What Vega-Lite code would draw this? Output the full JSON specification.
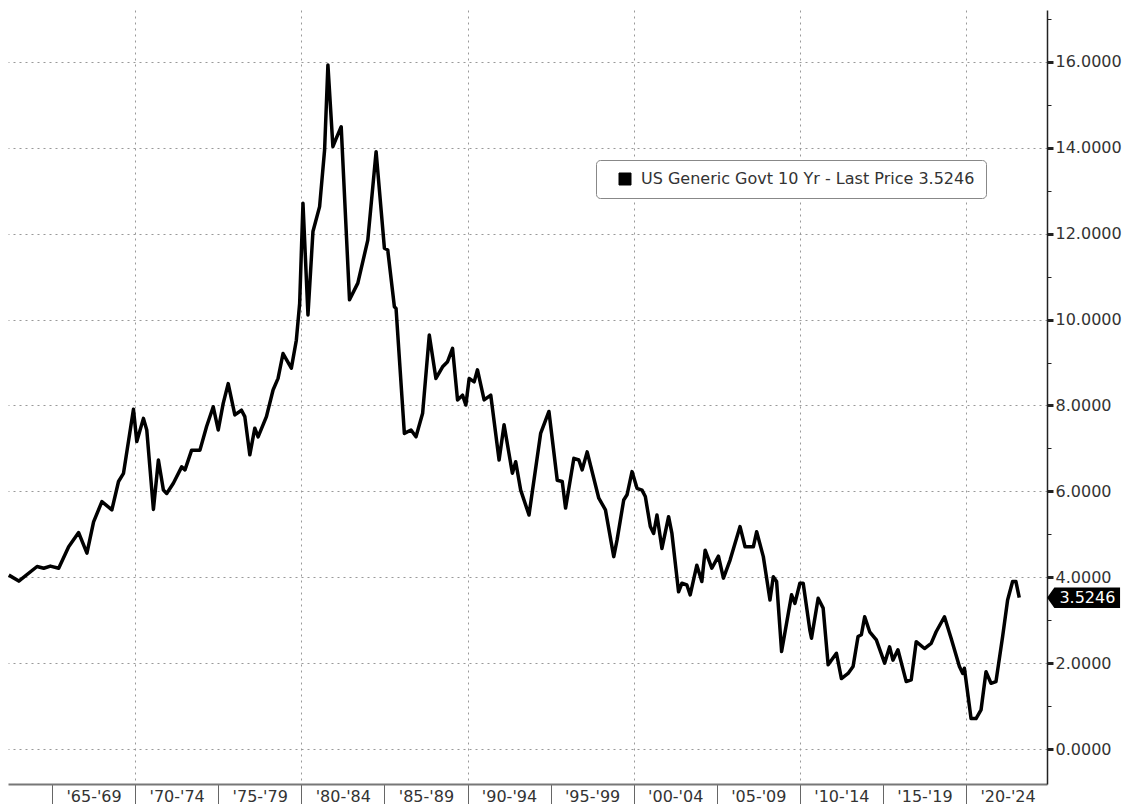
{
  "$schema": "https://vega.github.io/schema/vega-lite/v6.json",
  "autosize": {"type": "none"},
  "width": 1039,
  "height": 774,
  "padding": {"left": 8, "top": 10, "right": 76, "bottom": 20},
  "background": "#ffffff",
  "config": {"view": {"stroke": null}, "font": "DejaVu Sans"},
  "datasets": {
    "yield": [
      {"t": 1962.4, "v": 4.05}, {"t": 1963.0, "v": 3.91}, {"t": 1964.1, "v": 4.25}, {"t": 1964.5, "v": 4.21},
      {"t": 1964.9, "v": 4.26}, {"t": 1965.4, "v": 4.21}, {"t": 1966.0, "v": 4.71}, {"t": 1966.6, "v": 5.04},
      {"t": 1967.1, "v": 4.56}, {"t": 1967.5, "v": 5.29}, {"t": 1968.0, "v": 5.76}, {"t": 1968.6, "v": 5.57},
      {"t": 1969.0, "v": 6.23}, {"t": 1969.3, "v": 6.42}, {"t": 1969.9, "v": 7.91}, {"t": 1970.1, "v": 7.16},
      {"t": 1970.5, "v": 7.70}, {"t": 1970.7, "v": 7.43}, {"t": 1971.1, "v": 5.58}, {"t": 1971.4, "v": 6.73},
      {"t": 1971.7, "v": 6.03}, {"t": 1971.9, "v": 5.95}, {"t": 1972.3, "v": 6.19}, {"t": 1972.8, "v": 6.57},
      {"t": 1973.0, "v": 6.50}, {"t": 1973.4, "v": 6.96}, {"t": 1973.9, "v": 6.96}, {"t": 1974.3, "v": 7.51},
      {"t": 1974.7, "v": 7.97}, {"t": 1975.0, "v": 7.43}, {"t": 1975.3, "v": 8.05}, {"t": 1975.6, "v": 8.51},
      {"t": 1976.0, "v": 7.78}, {"t": 1976.4, "v": 7.89}, {"t": 1976.6, "v": 7.74}, {"t": 1976.9, "v": 6.85},
      {"t": 1977.2, "v": 7.47}, {"t": 1977.4, "v": 7.27}, {"t": 1977.9, "v": 7.74}, {"t": 1978.3, "v": 8.36},
      {"t": 1978.6, "v": 8.63}, {"t": 1978.9, "v": 9.21}, {"t": 1979.4, "v": 8.87}, {"t": 1979.7, "v": 9.52},
      {"t": 1979.9, "v": 10.38}, {"t": 1980.1, "v": 12.71}, {"t": 1980.4, "v": 10.11}, {"t": 1980.7, "v": 12.05},
      {"t": 1981.1, "v": 12.63}, {"t": 1981.4, "v": 13.95}, {"t": 1981.6, "v": 15.93}, {"t": 1981.9, "v": 14.03},
      {"t": 1982.1, "v": 14.22}, {"t": 1982.4, "v": 14.49}, {"t": 1982.9, "v": 10.46}, {"t": 1983.4, "v": 10.85},
      {"t": 1984.0, "v": 11.85}, {"t": 1984.5, "v": 13.91}, {"t": 1985.0, "v": 11.66}, {"t": 1985.2, "v": 11.62},
      {"t": 1985.6, "v": 10.30}, {"t": 1985.7, "v": 10.26}, {"t": 1986.2, "v": 7.35}, {"t": 1986.6, "v": 7.43},
      {"t": 1986.9, "v": 7.27}, {"t": 1987.3, "v": 7.82}, {"t": 1987.7, "v": 9.64}, {"t": 1988.1, "v": 8.63},
      {"t": 1988.5, "v": 8.90}, {"t": 1988.8, "v": 9.02}, {"t": 1989.1, "v": 9.33}, {"t": 1989.4, "v": 8.13},
      {"t": 1989.7, "v": 8.24}, {"t": 1989.9, "v": 8.01}, {"t": 1990.1, "v": 8.63}, {"t": 1990.4, "v": 8.55},
      {"t": 1990.6, "v": 8.83}, {"t": 1991.0, "v": 8.13}, {"t": 1991.4, "v": 8.24}, {"t": 1991.9, "v": 6.73},
      {"t": 1992.2, "v": 7.55}, {"t": 1992.7, "v": 6.42}, {"t": 1992.9, "v": 6.69}, {"t": 1993.2, "v": 6.03},
      {"t": 1993.7, "v": 5.45}, {"t": 1994.4, "v": 7.35}, {"t": 1994.9, "v": 7.86}, {"t": 1995.4, "v": 6.26},
      {"t": 1995.7, "v": 6.23}, {"t": 1995.9, "v": 5.61}, {"t": 1996.4, "v": 6.77}, {"t": 1996.7, "v": 6.73},
      {"t": 1996.9, "v": 6.50}, {"t": 1997.2, "v": 6.92}, {"t": 1997.9, "v": 5.84}, {"t": 1998.3, "v": 5.57},
      {"t": 1998.8, "v": 4.48}, {"t": 1999.0, "v": 4.87}, {"t": 1999.4, "v": 5.80}, {"t": 1999.6, "v": 5.92},
      {"t": 1999.9, "v": 6.46}, {"t": 2000.2, "v": 6.07}, {"t": 2000.5, "v": 6.03}, {"t": 2000.7, "v": 5.88},
      {"t": 2001.0, "v": 5.18}, {"t": 2001.2, "v": 5.02}, {"t": 2001.4, "v": 5.45}, {"t": 2001.7, "v": 4.67},
      {"t": 2002.1, "v": 5.41}, {"t": 2002.3, "v": 5.02}, {"t": 2002.7, "v": 3.66}, {"t": 2002.9, "v": 3.86},
      {"t": 2003.2, "v": 3.82}, {"t": 2003.4, "v": 3.59}, {"t": 2003.8, "v": 4.28}, {"t": 2004.1, "v": 3.90},
      {"t": 2004.3, "v": 4.63}, {"t": 2004.7, "v": 4.21}, {"t": 2005.1, "v": 4.49}, {"t": 2005.4, "v": 3.98},
      {"t": 2005.8, "v": 4.40}, {"t": 2006.4, "v": 5.18}, {"t": 2006.7, "v": 4.71}, {"t": 2007.2, "v": 4.71},
      {"t": 2007.4, "v": 5.06}, {"t": 2007.8, "v": 4.48}, {"t": 2008.2, "v": 3.47}, {"t": 2008.4, "v": 4.01},
      {"t": 2008.6, "v": 3.90}, {"t": 2008.9, "v": 2.27}, {"t": 2009.5, "v": 3.59}, {"t": 2009.7, "v": 3.39},
      {"t": 2010.0, "v": 3.86}, {"t": 2010.2, "v": 3.86}, {"t": 2010.6, "v": 2.77}, {"t": 2010.7, "v": 2.58},
      {"t": 2011.1, "v": 3.51}, {"t": 2011.4, "v": 3.28}, {"t": 2011.7, "v": 1.96}, {"t": 2012.2, "v": 2.23},
      {"t": 2012.5, "v": 1.64}, {"t": 2012.9, "v": 1.76}, {"t": 2013.2, "v": 1.92}, {"t": 2013.5, "v": 2.62},
      {"t": 2013.7, "v": 2.66}, {"t": 2013.9, "v": 3.08}, {"t": 2014.2, "v": 2.73}, {"t": 2014.6, "v": 2.54},
      {"t": 2015.1, "v": 2.00}, {"t": 2015.4, "v": 2.38}, {"t": 2015.6, "v": 2.07}, {"t": 2015.9, "v": 2.31},
      {"t": 2016.4, "v": 1.57}, {"t": 2016.7, "v": 1.61}, {"t": 2017.0, "v": 2.50}, {"t": 2017.5, "v": 2.34},
      {"t": 2017.9, "v": 2.46}, {"t": 2018.2, "v": 2.73}, {"t": 2018.7, "v": 3.08}, {"t": 2019.1, "v": 2.58},
      {"t": 2019.6, "v": 1.92}, {"t": 2019.8, "v": 1.76}, {"t": 2019.9, "v": 1.88}, {"t": 2020.3, "v": 0.71},
      {"t": 2020.6, "v": 0.71}, {"t": 2020.9, "v": 0.91}, {"t": 2021.2, "v": 1.80}, {"t": 2021.5, "v": 1.53},
      {"t": 2021.8, "v": 1.57}, {"t": 2022.2, "v": 2.62}, {"t": 2022.5, "v": 3.47}, {"t": 2022.8, "v": 3.90},
      {"t": 2023.0, "v": 3.90}, {"t": 2023.2, "v": 3.5246}
    ],
    "tag": [{"label": "3.5246", "v": 3.5246}]
  },
  "layer": [
    {
      "data": {"name": "yield"},
      "mark": {"type": "line", "color": "#000000", "strokeWidth": 3.5, "strokeJoin": "round", "clip": true},
      "encoding": {
        "x": {
          "field": "t", "type": "quantitative",
          "scale": {"domain": [1962.35, 2024.87], "nice": false, "zero": false},
          "axis": {
            "orient": "bottom", "title": null,
            "values": [1965, 1970, 1975, 1980, 1985, 1990, 1995, 2000, 2005, 2010, 2015, 2020],
            "labelExpr": "\"'\" + substring(format(datum.value, 'd'), 2, 4) + \"-'\" + substring(format(datum.value + 4, 'd'), 2, 4)",
            "labelOffset": 41.5, "labelPadding": -16, "labelFontSize": 16, "labelColor": "#333333",
            "labelFont": "DejaVu Sans", "labelFlush": false, "labelOverlap": false, "labelBound": false,
            "tickSize": 20, "tickColor": "#666666", "tickWidth": 1,
            "domainColor": "#777777", "domainWidth": 2,
            "grid": true, "gridColor": "#999999", "gridDash": [2, 4], "gridWidth": 1,
            "gridOpacity": {"condition": {"test": "datum.value % 10 == 0", "value": 1}, "value": 0}
          }
        },
        "y": {
          "field": "v", "type": "quantitative",
          "scale": {"domain": [-0.815, 17.21], "nice": false, "zero": false},
          "axis": {
            "orient": "right", "title": null,
            "values": [0, 1, 2, 3, 4, 5, 6, 7, 8, 9, 10, 11, 12, 13, 14, 15, 16, 17],
            "labelExpr": "datum.value % 2 == 0 ? format(datum.value, '.4f') : ''",
            "labelFontSize": 16, "labelColor": "#333333", "labelFont": "DejaVu Sans", "labelPadding": 2,
            "labelOverlap": false, "labelFlush": false,
            "tickSize": {"condition": {"test": "datum.value % 2 == 0", "value": 6}, "value": 4},
            "tickWidth": {"condition": {"test": "datum.value % 2 == 0", "value": 3}, "value": 1},
            "tickColor": "#222222",
            "domainColor": "#222222", "domainWidth": 1.5,
            "grid": true, "gridColor": "#999999", "gridDash": [2, 4], "gridWidth": 1,
            "gridOpacity": {"condition": {"test": "datum.value % 2 == 0", "value": 1}, "value": 0}
          }
        },
        "color": {
          "datum": "US Generic Govt 10 Yr - Last Price 3.5246", "type": "nominal",
          "scale": {"range": ["#000000"]},
          "legend": {
            "orient": "none", "legendX": 588, "legendY": 150, "title": null,
            "symbolType": "square", "symbolSize": 144, "symbolFillColor": "#000000",
            "symbolStrokeColor": "#000000", "symbolStrokeWidth": 1,
            "labelFontSize": 16, "labelColor": "#333333", "labelFont": "DejaVu Sans", "labelLimit": 600,
            "padding": 11, "symbolOffset": 10, "labelOffset": 8,
            "strokeColor": "#888888", "fillColor": "#ffffff", "cornerRadius": 4
          }
        }
      }
    },
    {
      "data": {"name": "tag"},
      "mark": {"type": "point", "shape": "M-1,0L-0.8,-0.28L1,-0.28L1,0.28L-0.8,0.28Z", "filled": true, "color": "#000000", "size": 5329, "opacity": 1},
      "encoding": {
        "x": {"datum": 2027.07, "type": "quantitative"},
        "y": {"field": "v", "type": "quantitative"}
      }
    },
    {
      "data": {"name": "tag"},
      "mark": {"type": "text", "color": "#ffffff", "fontSize": 16, "font": "DejaVu Sans", "align": "center", "baseline": "middle"},
      "encoding": {
        "x": {"datum": 2027.3, "type": "quantitative"},
        "y": {"field": "v", "type": "quantitative"},
        "text": {"field": "label"}
      }
    }
  ]
}
